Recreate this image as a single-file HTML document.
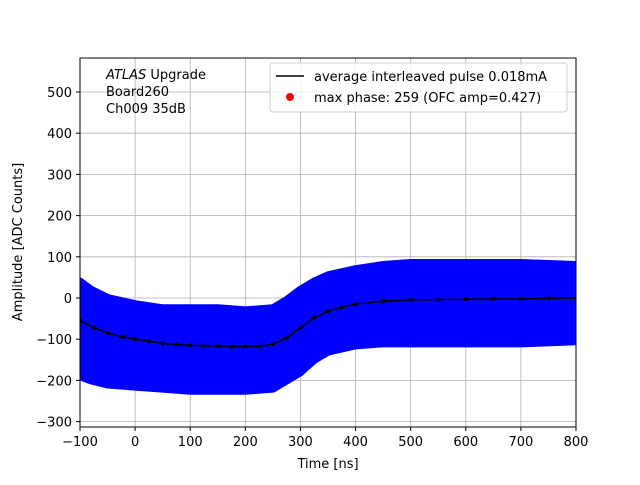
<!DOCTYPE html>
<html><head><meta charset="utf-8"><style>
body{margin:0;background:#fff;}
svg text{font-family:"DejaVu Sans","Liberation Sans",sans-serif;}
</style></head><body>
<svg width="640" height="480" viewBox="0 0 640 480">
<defs><clipPath id="pc"><rect x="80" y="58" width="496" height="369"/></clipPath></defs>
<g id="grid"></g>
<g id="band" clip-path="url(#pc)"></g>
<g id="avg" clip-path="url(#pc)"></g>
<rect x="80" y="58" width="496" height="369" fill="none" stroke="#000" stroke-width="1"/>
<g id="ticks"></g>
<text x="328" y="468" font-size="13" text-anchor="middle">Time [ns]</text>
<text x="22" y="242" font-size="13" text-anchor="middle" transform="rotate(-90 22 242)">Amplitude [ADC Counts]</text>
<g font-size="13">
<text x="106" y="79"><tspan font-style="italic">ATLAS</tspan> Upgrade</text>
<text x="106" y="96"> Board260</text>
<text x="106" y="113"> Ch009 35dB</text>
</g>
<g>
<rect x="270" y="63" width="297" height="49" rx="3" fill="#fff" fill-opacity="0.8" stroke="#ccc"/>
<line x1="276" y1="76" x2="304" y2="76" stroke="#000" stroke-width="1.5"/>
<text x="314" y="81" font-size="13">average interleaved pulse 0.018mA</text>
<circle cx="290" cy="97" r="4" fill="red"/>
<text x="314" y="102" font-size="13">max phase: 259 (OFC amp=0.427)</text>
</g>
</svg>
<script>
const xTicks=[-100,0,100,200,300,400,500,600,700,800];
const yTicks=[-300,-200,-100,0,100,200,300,400,500];
const bandX=[-100,-80,-50,0,50,100,150,200,250,275,300,325,350,400,450,500,600,700,800];
const bandUpper=[40,20,0,-15,-25,-25,-25,-30,-25,-5,20,40,55,70,80,85,85,85,80];
const bandLower=[-190,-200,-210,-215,-220,-225,-225,-225,-220,-200,-180,-150,-130,-115,-110,-110,-110,-110,-105];
const avgX=[-100,-75,-50,-25,0,25,50,75,100,125,150,175,200,225,250,275,300,325,350,375,400,450,500,550,600,650,700,750,800];
const avgY=[-55,-72,-85,-94,-100,-105,-110,-113,-115,-116,-117,-118,-118,-117,-112,-97,-72,-48,-32,-22,-15,-8,-5,-4,-3,-2,-2,-1,0];
const X=v=>80+(v+100)*496/900;
const Y=v=>298-v*0.412;
const ns='http://www.w3.org/2000/svg';
function mk(t,a,p){const e=document.createElementNS(ns,t);for(const k in a)e.setAttribute(k,a[k]);p.appendChild(e);return e;}
const grid=document.getElementById('grid'),ticks=document.getElementById('ticks');
xTicks.forEach(v=>{
 const l=mk('line',{x1:X(v),x2:X(v),y1:58,y2:427,stroke:'#b0b0b0','stroke-width':0.8},grid);
 
 
 mk('line',{x1:X(v),x2:X(v),y1:427,y2:431,stroke:'#000'},ticks);
 const t=mk('text',{x:X(v),y:446,'font-size':13,'text-anchor':'middle'},ticks);t.textContent=String(v).replace('-','\u2212');
 
 
});
yTicks.forEach(v=>{
 const l=mk('line',{x1:80,x2:576,y1:Y(v),y2:Y(v),stroke:'#b0b0b0','stroke-width':0.8},grid);
 
 
 mk('line',{x1:76,x2:80,y1:Y(v),y2:Y(v),stroke:'#000'},ticks);
 const t=mk('text',{x:72,y:Y(v)+5,'font-size':13,'text-anchor':'end'},ticks);t.textContent=String(v).replace('-','\u2212');
 
 
});
const band=document.getElementById('band');
let d='M'+bandX.map((x,i)=>X(x)+','+Y(bandUpper[i])).join('L');
d+='L'+bandX.map((x,i)=>X(x)+','+Y(bandLower[i])).reverse().join('L')+'Z';
const p=mk('path',{d:d,fill:'#0000ff',stroke:'#0000ff','stroke-width':8,'stroke-linejoin':'round'},band);


const avg=document.getElementById('avg');
const pl=mk('polyline',{points:avgX.map((x,i)=>X(x)+','+Y(avgY[i])).join(' '),fill:'none',stroke:'#000','stroke-width':1.5},avg);


avgX.forEach((x,i)=>{
 const c=mk('circle',{cx:X(x),cy:Y(avgY[i]),r:2,fill:'#000'},avg);
 
 
});
</script>
</body></html>
